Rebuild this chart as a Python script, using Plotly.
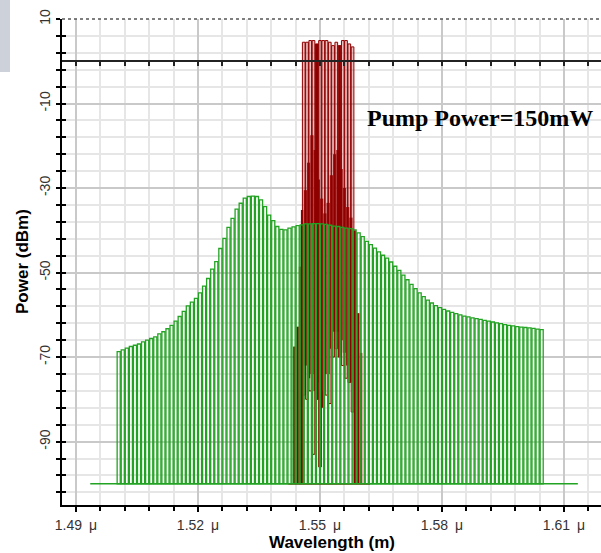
import numpy as np
import plotly.graph_objects as go

# ---------------- data ----------------
# Green: ASE / amplified spectrum, 1 nm bins starting at 1.500 um
green_start = 1.500
green_step = 0.001
green_vals = [
    -68.7, -68.3, -67.9, -67.5, -67.2, -66.9, -66.4, -66.0, -65.6, -65.2,
    -64.5, -64.0, -63.3, -62.5, -61.5, -60.4, -59.2, -57.9, -57.0,
    -56.1, -54.8, -53.2, -51.4, -49.2, -47.4, -44.3, -41.9, -39.3, -37.2,
    -35.0, -33.6, -32.4, -32.0, -31.9, -32.0, -32.8, -34.4, -36.4, -37.7,
    -39.1, -39.8, -39.9, -39.5, -39.2, -38.9,
    -38.7, -38.5, -38.5, -38.4, -38.4, -38.5, -38.6, -38.8, -39.0, -39.1,
    -39.3, -39.5, -39.6, -39.9, -40.6, -41.5, -42.6, -43.4, -44.2, -45.1, -45.9,
    -46.6, -47.5, -48.5, -49.5, -50.6, -51.7, -52.8, -53.8, -54.8, -55.7,
    -56.5, -57.2, -57.8, -58.3, -58.7, -59.1, -59.4, -59.7, -60.0, -60.3,
    -60.5, -60.7, -60.9, -61.1, -61.3, -61.5, -61.7, -61.9, -62.1, -62.3,
    -62.5, -62.6, -62.8, -62.9, -63.0, -63.1, -63.2, -63.4, -63.5,
]
green_base_x = [1.4935, 1.6134]
floor_dbm = -100

# Red: WDM signal channels (16 channels, 0.8 nm grid)
red_ch_start = 1.5460
red_ch_step = 0.0008
red_ch_peak = [4.5, 4.5, 4.9, 4.9, 4.1, 4.9, 4.9, 4.9, 4.5, 3.7, 4.5, 3.7, 4.9, 4.9, 4.1, 3.4]
red_ch_low = [-79, -80, -78, -93, -80, -96, -78, -79, -81, -70, -68, -70, -72, -75, -76, -83]
# inter-channel noise (between channel k and k+1)
red_gap_top = [-30.5, -24, -17.5, -21, -28, -32.5, -36, -33.5, -27, -22, -21, -25.5, -30, -34.5, -37]
red_gap_low = [-72, -75, -74, -78, -76, -82, -74, -74, -68, -64, -64, -66, -69, -72, -76]
# outer skirts
red_side_x = [1.5437, 1.5445, 1.5451, 1.5456, 1.5586, 1.5594, 1.5601]
red_side_top = [-67.5, -62.8, -48.6, -35.2, -40.0, -59.6, -69.0]
red_base_x = [1.5422, 1.5623]

pump_label = "Pump Power=150mW"
x_ticks = [1.49, 1.52, 1.55, 1.58, 1.61]
y_ticks = [10, -10, -30, -50, -70, -90]

# ---------------- derived ----------------
gx = green_start + green_step * (np.arange(len(green_vals)) + 0.5)
gv = np.array(green_vals)
cx = red_ch_start + red_ch_step * np.arange(len(red_ch_peak))
gapx = cx[:-1] + red_ch_step / 2
cp, cl = np.array(red_ch_peak), np.array(red_ch_low)
gt, gl = np.array(red_gap_top), np.array(red_gap_low)

GREEN = "#23a323"
DRED = "#8e0000"

fig = go.Figure()
# red baseline
fig.add_trace(go.Scatter(x=red_base_x, y=[floor_dbm] * 2, mode="lines",
                         line=dict(color=DRED, width=1.5), hoverinfo="skip"))
# red skirts
fig.add_trace(go.Bar(x=red_side_x, y=np.array(red_side_top) - floor_dbm, base=floor_dbm,
                     width=0.0006, marker=dict(color=DRED, line=dict(width=0))))
# inter-channel noise fill
fig.add_trace(go.Bar(x=gapx, y=gt - gl, base=gl, width=red_ch_step,
                     marker=dict(color=DRED, line=dict(width=0))))
# channel bars
ch_fill = ["rgba(200,70,70,0.35)"] * len(cx)
ch_fill[4] = DRED
ch_fill[11] = DRED
fig.add_trace(go.Bar(x=cx, y=cp - cl, base=cl, width=0.00066,
                     marker=dict(color=ch_fill, line=dict(color=DRED, width=1))))
# green bars
fig.add_trace(go.Bar(x=gx, y=gv - floor_dbm, base=floor_dbm, width=0.00076,
                     marker=dict(color="rgba(0,0,0,0)", line=dict(color=GREEN, width=1.3))))
# green baseline
fig.add_trace(go.Scatter(x=green_base_x, y=[floor_dbm] * 2, mode="lines",
                         line=dict(color=GREEN, width=1.5), hoverinfo="skip"))
# dummy traces for helper axes
fig.add_trace(go.Scatter(x=[1.55], y=[-200], xaxis="x2", mode="markers",
                         marker=dict(opacity=0), hoverinfo="skip"))
fig.add_trace(go.Scatter(x=[1.55], y=[-200], yaxis="y2", mode="markers",
                         marker=dict(opacity=0), hoverinfo="skip"))

XR = [1.48656, 1.61909]
YR = [-105, 10]
tickfont = dict(family="Liberation Sans, Arial", size=14, color="#333333")

fig.update_layout(
    width=601, height=553,
    margin=dict(l=62, r=0, t=19, b=48, pad=0),
    paper_bgcolor="white", plot_bgcolor="white",
    showlegend=False, barmode="overlay",
    xaxis=dict(range=XR, tickmode="array", tickvals=x_ticks,
               ticktext=[f"{v:.2f}\u2002\u03bc" for v in x_ticks],
               showline=True, linecolor="black", linewidth=2,
               ticks="outside", ticklen=5, tickwidth=1.5, tickcolor="black",
               ticklabelstandoff=1,
               tickfont=tickfont, showgrid=True, gridcolor="#c9c9c9", gridwidth=1.5,
               zeroline=False,
               minor=dict(tick0=1.49, dtick=0.006, ticks="outside", ticklen=4,
                          tickcolor="black", tickwidth=1.5,
                          showgrid=True, gridcolor="#e6e6e6", gridwidth=1.5)),
    xaxis2=dict(range=XR, overlaying="x", anchor="free", position=105 / 115,
                showline=True, linecolor="#222222", linewidth=2,
                ticks="outside", ticklen=4, tickwidth=2, tickcolor="#222222",
                tick0=1.49, dtick=0.006, showticklabels=False, showgrid=False,
                zeroline=False),
    yaxis=dict(range=YR, tickmode="array", tickvals=y_ticks,
               ticktext=[str(v) for v in y_ticks], tickangle=-90,
               showline=True, linecolor="black", linewidth=2,
               ticks="outside", ticklen=4, tickwidth=1.5, tickcolor="black",
               tickfont=tickfont, showgrid=True, gridcolor="#c9c9c9", gridwidth=1.5,
               zeroline=False,
               minor=dict(tick0=10, dtick=4, ticks="outside", ticklen=4,
                          tickcolor="black", tickwidth=1.5,
                          showgrid=True, gridcolor="#e6e6e6", gridwidth=1.5)),
    yaxis2=dict(range=YR, overlaying="y", anchor="x", side="left",
                ticks="inside", ticklen=4, tickwidth=1.5, tickcolor="black",
                tick0=10, dtick=4, showticklabels=False, showgrid=False,
                zeroline=False, showline=False),
    shapes=[
        dict(type="rect", xref="paper", yref="paper",
             x0=-62 / 539, x1=-52 / 539, y0=433 / 486, y1=505 / 486,
             fillcolor="#cdd1da", line=dict(width=0), layer="above"),
        dict(type="line", xref="paper", yref="paper", x0=0, x1=1, y0=1, y1=1,
             line=dict(color="#555555", width=1.5, dash="dot")),
    ],
    annotations=[
        dict(text="<b>" + pump_label + "</b>", x=1.5611, y=-13.4, xref="x", yref="y",
             xanchor="left", yanchor="middle", showarrow=False,
             font=dict(family="Liberation Serif, Times New Roman", size=24, color="black")),
        dict(text="<b>Wavelength (m)</b>", x=0.5, y=-37 / 486, xref="paper", yref="paper",
             xanchor="center", yanchor="middle", showarrow=False,
             font=dict(family="Liberation Sans, Arial", size=17, color="black")),
        dict(text="<b>Power (dBm)</b>", x=-40 / 539, y=0.5, xref="paper", yref="paper",
             xanchor="center", yanchor="middle", showarrow=False, textangle=-90,
             font=dict(family="Liberation Sans, Arial", size=17, color="black")),
    ],
)

fig.write_html("out.html")
